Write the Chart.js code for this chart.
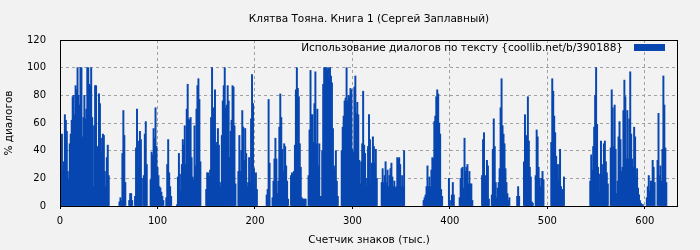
<!DOCTYPE html>
<html>
<head>
<meta charset="utf-8">
<script src="https://cdn.jsdelivr.net/npm/chart.js@4"></script>
<style>
  html, body { margin: 0; padding: 0; background: #f2f2f2; }
  #wrap { width: 700px; height: 250px; }
</style>
</head>
<body>
<div id="wrap"><canvas id="myChartCanvas" width="700" height="250"></canvas></div>
<script>
// Dialogue share per 1000 chars of text, stored as runs of non-empty bars.
// segmentStart = char counter (thousands) of the first bar in each run
const segmentStart = [0, 61, 71, 77, 86, 93, 109, 120, 150, 183, 212, 218, 237, 255, 289, 299,
  330, 373, 399, 402, 410, 433, 443, 469, 476, 488, 504, 544, 565, 602, 613];

const segmentValues = [
  [23, 43, 52, 26, 32, 66, 62, 54, 25, 19, 45, 52, 62, 79, 80, 66, 87, 84, 100, 80, 73, 100, 100, 50, 64, 80,
    63, 70, 100, 100, 88, 87, 100, 64, 14, 58, 87, 87, 43, 40, 81, 74, 49, 38, 52, 51, 25, 14, 35, 44, 22],
  [3, 6, 4, 38, 69, 51, 17],
  [4, 9, 9, 4],
  [7, 42, 70, 47, 27, 54, 48, 20],
  [22, 52, 61, 30],
  [19, 39, 37, 56, 49, 71, 43, 28, 22, 14, 13, 10, 7, 4],
  [6, 30, 48, 24, 14, 7],
  [1, 21, 38, 23, 11, 30, 48, 44, 58, 30, 70, 88, 63, 62, 64, 35, 21, 19, 58, 29, 70, 87, 92, 77, 32],
  [12, 24, 24, 21, 26, 64, 100, 71, 56, 84, 46, 43, 56, 44, 17, 14, 51, 76, 87, 100, 71, 73, 87, 76, 35, 54,
    62, 87, 86, 58, 16],
  [25, 51, 25, 40, 69, 57, 33, 56, 38, 14, 17, 35, 17, 63, 95, 74, 27, 12, 24, 12],
  [8, 12, 77, 31],
  [6, 18, 34, 49, 34, 9, 18, 57, 81, 64, 41, 25, 45, 43, 29, 18, 5],
  [22, 24, 22, 25, 44, 84, 100, 85, 79, 45, 28, 6, 5, 5, 5, 5],
  [22, 55, 98, 66, 66, 46, 74, 97, 45, 70, 29, 45, 7, 7, 40, 88, 100, 100, 100, 98, 100, 92, 100, 94, 89, 56,
    29, 26, 40, 18, 7],
  [40, 57, 65, 76, 78, 100, 76, 80, 79, 85],
  [84, 41, 39, 86, 94, 67, 75, 66, 33, 16, 32, 45, 83, 44, 38, 14, 20, 43, 66, 48, 17, 31, 50, 43, 31, 41, 20],
  [17, 27, 17, 22, 32, 17, 26, 14, 22, 27, 31, 21, 14, 18, 13, 14, 35, 34, 35, 30, 14, 22, 14, 40],
  [4, 6, 8, 14, 29, 14, 21, 14, 26, 35, 34, 61, 65, 79, 84, 81, 60, 52, 12, 7],
  [20, 4],
  [8, 17, 8],
  [6, 20, 27, 28, 13, 49, 25, 28, 30, 16, 25, 16, 16, 4],
  [22, 48, 53, 22, 17, 33, 29, 5],
  [8, 41, 63, 43, 17, 6, 13, 17, 27, 71, 92, 58, 52, 45, 27, 17, 9, 4, 6],
  [7, 14, 7],
  [32, 66, 51, 50, 79, 47, 28, 21, 3, 2],
  [22, 55, 50, 28, 20, 14, 20, 25, 19],
  [46, 92, 83, 65, 53, 36, 30, 19, 30, 41, 14, 5, 12, 21],
  [18, 37, 26, 43, 57, 80, 100, 59, 28, 9, 23, 47, 30, 23, 45, 47, 32, 24, 16],
  [42, 84, 71, 43, 73, 41, 9, 18, 50, 61, 48, 25, 28, 69, 91, 79, 34, 69, 34, 63, 97, 52, 34, 28, 57, 50,
    21, 27, 13, 8, 4, 2, 1, 1],
  [6, 14, 22, 11, 18, 18, 33, 28, 17],
  [33, 67, 22, 29, 18, 41, 94, 73, 42, 17]
];

const xTicks = [0, 100, 200, 300, 400, 500, 600];
const yTicks = [0, 20, 40, 60, 80, 100, 120];

const chartTitle = "Клятва Тояна. Книга 1 (Сергей Заплавный)";
const seriesLabel = "Использование диалогов по тексту {coollib.net/b/390188}";
const xTitle = "Счетчик знаков (тыс.)";
const yTitle = "% диалогов";

const barColor = "#0846b0";
const gridColor = "#a0a0a0";
const fontFamily = "'DejaVu Sans', sans-serif";

// Flatten runs into {x, y} points for a linear x-axis
const points = [];
segmentStart.forEach((start, s) => {
  segmentValues[s].forEach((v, j) => points.push({ x: start + j, y: v }));
});

// Draw title, legend, axis titles and the frame ourselves (gnuplot look)
const framePlugin = {
  id: "frame",
  afterDraw: (chart) => {
    const ctx = chart.ctx;
    const a = chart.chartArea;
    const midX = (a.left + a.right) / 2;
    ctx.save();
    ctx.fillStyle = "#000";
    ctx.font = "10.5px " + fontFamily;
    ctx.textBaseline = "middle";

    ctx.textAlign = "center";
    ctx.fillText(chartTitle, midX, 19);
    ctx.fillText(xTitle, midX, 240);

    ctx.save();
    ctx.translate(9, (a.top + a.bottom) / 2);
    ctx.rotate(-Math.PI / 2);
    ctx.fillText(yTitle, 0, 0);
    ctx.restore();

    // legend, top-right inside the plot
    ctx.textAlign = "right";
    ctx.fillText(seriesLabel, a.right - 55, a.top + 8);
    ctx.fillStyle = barColor;
    ctx.fillRect(a.right - 44, a.top + 4, 31, 7);

    // frame
    ctx.strokeStyle = "#000";
    ctx.lineWidth = 1;
    ctx.strokeRect(a.left + 0.5, a.top + 0.5, a.right - a.left - 1, a.bottom - a.top);
    ctx.restore();
  },
};

Chart.defaults.font.family = fontFamily;
Chart.defaults.font.size = 10;
Chart.defaults.color = "#000";

const canvas = document.getElementById("myChartCanvas");
const myChart = new Chart(canvas, {
  type: "bar",
  data: {
    datasets: [{
      label: seriesLabel,
      data: points,
      backgroundColor: barColor,
      borderWidth: 0,
      barThickness: 1.3,
    }],
  },
  plugins: [framePlugin],
  options: {
    responsive: false,
    animation: false,
    events: [],
    layout: { padding: { top: 40, right: 22, left: 0, bottom: 0 } },
    plugins: {
      legend: { display: false },
      title: { display: false },
      tooltip: { enabled: false },
    },
    scales: {
      x: {
        type: "linear",
        min: 0,
        max: 634,
        offset: false,
        afterBuildTicks: (scale) => { scale.ticks = xTicks.map((v) => ({ value: v })); },
        afterFit: (scale) => { scale.height = 44; },
        ticks: { padding: 6, maxRotation: 0 },
        border: { display: false, dash: [3, 3] },
        grid: {
          offset: false,
          color: gridColor,
          drawTicks: true,
          tickLength: 3,
          tickColor: "#000",
          tickBorderDash: [],
        },
      },
      y: {
        min: 0,
        max: 120,
        afterBuildTicks: (scale) => { scale.ticks = yTicks.map((v) => ({ value: v })); },
        afterFit: (scale) => { scale.width = 60; },
        ticks: { padding: 14 },
        border: { display: false, dash: [3, 3] },
        grid: {
          color: gridColor,
          drawTicks: false,
        },
      },
    },
  },
});
</script>
</body>
</html>
